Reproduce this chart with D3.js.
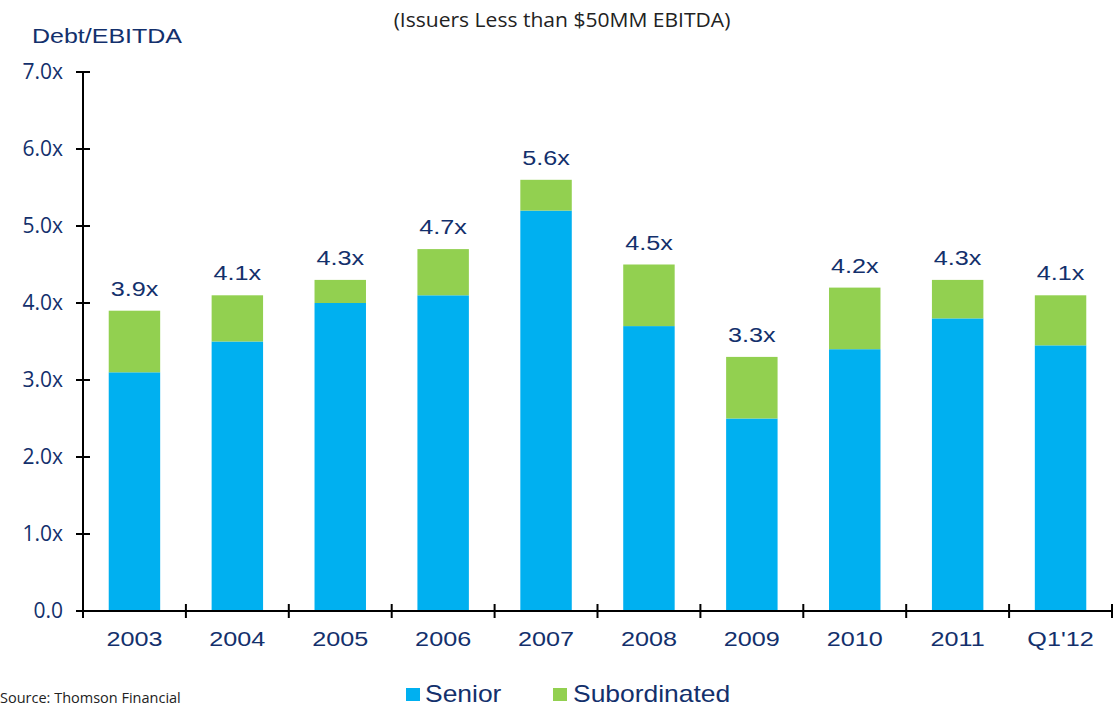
<!DOCTYPE html>
<html>
<head>
<meta charset="utf-8">
<script src="https://cdn.jsdelivr.net/npm/d3@7"></script>
<style>
  html, body { margin: 0; padding: 0; background: #fff; }
  svg { display: block; }
</style>
</head>
<body>
<svg id="chart" width="1120" height="707"></svg>
<script>
// Debt/EBITDA multiples, issuers with less than $50MM EBITDA
const categories = ["2003", "2004", "2005", "2006", "2007", "2008", "2009", "2010", "2011", "Q1'12"];
const senior       = [3.1, 3.5, 4.0, 4.1, 5.2, 3.7, 2.5, 3.4, 3.8, 3.45];
const subordinated = [0.8, 0.6, 0.3, 0.6, 0.4, 0.8, 0.8, 0.8, 0.5, 0.65];
const totalLabels  = ["3.9x", "4.1x", "4.3x", "4.7x", "5.6x", "4.5x", "3.3x", "4.2x", "4.3x", "4.1x"];
const yTicks       = [0, 1, 2, 3, 4, 5, 6, 7];
const yTickLabels  = ["0.0", "1.0x", "2.0x", "3.0x", "4.0x", "5.0x", "6.0x", "7.0x"];
const seriesNames  = ["Senior", "Subordinated"];

const colors = { Senior: "#00B0F0", Subordinated: "#92D050" };
const navy = "#13306c";
const arial = "'Liberation Sans', Arial, sans-serif";
const sansOpen = "'Open Sans', 'Noto Sans', sans-serif";
const stretch = 1.2;   // horizontal widening used for the Arial-style labels

const svg = d3.select("#chart");

const plotLeft = 83, plotRight = 1112, plotTop = 72, plotBottom = 611;

const x = d3.scaleBand().domain(categories).range([plotLeft, plotRight])
  .paddingInner(0.5).paddingOuter(0.25);
const y = d3.scaleLinear().domain([0, 7]).range([plotBottom, plotTop]);

// helper: text widened horizontally around its anchor point
function wideText(g, tx, ty, str, opts) {
  return g.append("text")
    .attr("transform", `translate(${tx},${ty}) scale(${opts.sx || stretch},1)`)
    .attr("text-anchor", opts.anchor || "middle")
    .attr("font-family", opts.family || arial)
    .attr("font-size", opts.size)
    .attr("fill", opts.fill || navy)
    .text(str);
}

// stacked data
const rows = categories.map((c, i) => ({
  cat: c, Senior: senior[i], Subordinated: subordinated[i], label: totalLabels[i]
}));
const stacked = d3.stack().keys(seriesNames)(rows);

const bars = svg.append("g");
stacked.forEach(layer => {
  bars.append("g").attr("fill", colors[layer.key])
    .selectAll("rect").data(layer).join("rect")
    .attr("x", d => x(d.data.cat))
    .attr("width", x.bandwidth())
    .attr("y", d => y(d[1]))
    .attr("height", d => y(d[0]) - y(d[1]));
});

// total labels above bars
const labels = svg.append("g");
rows.forEach(r => {
  const tot = r.Senior + r.Subordinated;
  wideText(labels, x(r.cat) + x.bandwidth() / 2, y(tot) - 15, r.label, { size: 21 });
});

// y axis
const yAxis = svg.append("g");
yAxis.append("line").attr("x1", plotLeft).attr("x2", plotLeft)
  .attr("y1", y(7)).attr("y2", y(0))
  .attr("stroke", "#000").attr("stroke-width", 2);
yTicks.forEach((v, i) => {
  yAxis.append("line").attr("x1", plotLeft - 7).attr("x2", plotLeft + 7)
    .attr("y1", y(v)).attr("y2", y(v))
    .attr("stroke", "#000").attr("stroke-width", 2);
  yAxis.append("text")
    .attr("x", 63).attr("y", y(v) + 7)
    .attr("text-anchor", "end")
    .attr("font-family", sansOpen)
    .attr("font-size", 21)
    .attr("fill", navy)
    .text(yTickLabels[i]);
});

// x axis
const xAxis = svg.append("g");
xAxis.append("line").attr("x1", plotLeft).attr("x2", plotRight)
  .attr("y1", plotBottom).attr("y2", plotBottom)
  .attr("stroke", "#000").attr("stroke-width", 2);
d3.range(categories.length + 1).forEach(i => {
  const tx = plotLeft + i * x.step();
  xAxis.append("line").attr("x1", tx).attr("x2", tx)
    .attr("y1", plotBottom - 7).attr("y2", plotBottom + 7)
    .attr("stroke", "#000").attr("stroke-width", 2);
});
categories.forEach(c => {
  wideText(xAxis, x(c) + x.bandwidth() / 2, 646, c, { size: 21 });
});

// axis title
wideText(svg, 32, 43, "Debt/EBITDA", { size: 20, anchor: "start", sx: 1.25 });

// chart subtitle
wideText(svg, 562, 27, "(Issuers Less than $50MM EBITDA)",
  { size: 19.5, sx: 1.08, family: sansOpen, fill: "#222" });

// legend
const legend = svg.append("g");
const legendItems = [
  { name: "Senior", sx: 406, tx: 425 },
  { name: "Subordinated", sx: 553, tx: 573 }
];
legendItems.forEach(it => {
  legend.append("rect")
    .attr("x", it.sx).attr("y", 688).attr("width", 14).attr("height", 13)
    .attr("fill", colors[it.name]);
  wideText(legend, it.tx, 702, it.name, { size: 23, anchor: "start", sx: 1.15 });
});

// source note
svg.append("text")
  .attr("x", 0).attr("y", 703)
  .attr("font-family", sansOpen)
  .attr("font-size", 14.5)
  .attr("fill", "#222")
  .text("Source: Thomson Financial");
</script>
</body>
</html>
